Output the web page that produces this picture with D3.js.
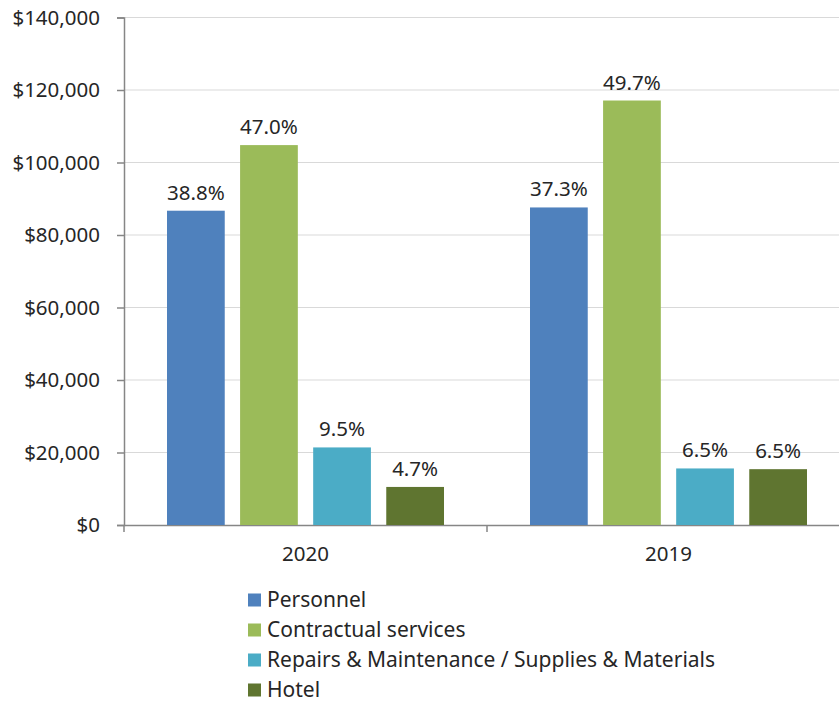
<!DOCTYPE html>
<html>
<head>
<meta charset="utf-8">
<script src="https://cdn.jsdelivr.net/npm/d3@7"></script>
<style>
  body { margin: 0; background: #fff; }
  svg text { font-family: "Noto Sans", sans-serif; fill: #262626; }
</style>
</head>
<body>
<svg id="canvas" width="839" height="704"></svg>
<script>
let years = ['2020', '2019'];
let seriesNames = ['Personnel', 'Contractual services', 'Repairs & Maintenance / Supplies & Materials', 'Hotel'];
let seriesColors = ['#4F81BD', '#9BBB59', '#4BACC6', '#5F7530'];
let values2020 = [86700, 104800, 21400, 10500];
let values2019 = [87600, 117100, 15600, 15400];
let pctLabels2020 = ['38.8%', '47.0%', '9.5%', '4.7%'];
let pctLabels2019 = ['37.3%', '49.7%', '6.5%', '6.5%'];
let yTicks = [0, 20000, 40000, 60000, 80000, 100000, 120000, 140000];

let rows = [
    {year: '2020', values: values2020, labels: pctLabels2020},
    {year: '2019', values: values2019, labels: pctLabels2019}
];

let canvas = d3.select('#canvas');

let plotLeft = 124, plotRight = 850, plotTop = 17.5, plotBottom = 525;

let x0 = d3.scaleBand().domain(years).range([plotLeft, plotRight]);
let x1 = d3.scaleBand().domain(seriesNames)
    .range([43, x0.bandwidth() - 43]).paddingInner(0.21);
let y = d3.scaleLinear().domain([0, 140000]).range([plotBottom, plotTop]);

// gridlines
canvas.append('g')
    .selectAll('line')
    .data(yTicks.filter(d => d > 0))
    .enter()
    .append('line')
    .attr('x1', plotLeft).attr('x2', 839)
    .attr('y1', d => y(d)).attr('y2', d => y(d))
    .attr('stroke', '#d9d9d9').attr('stroke-width', 1.2);

// y axis
let yAxis = d3.axisLeft(y).tickValues(yTicks).tickSize(7).tickPadding(17)
    .tickFormat(d => '$' + d3.format(',')(d));
let yg = canvas.append('g').attr('transform', `translate(${plotLeft},0)`).call(yAxis);
yg.select('.domain').attr('stroke', '#868686').attr('stroke-width', 1.5);
yg.selectAll('.tick line').attr('stroke', '#868686').attr('stroke-width', 1.5);
yg.selectAll('.tick text').style('font-size', '20.5px').attr('fill', '#262626');

// x axis
let xAxis = d3.axisBottom(x0).tickSize(0).tickPadding(21);
let xg = canvas.append('g').attr('transform', `translate(0,${plotBottom})`).call(xAxis);
xg.select('.domain').attr('stroke', '#868686').attr('stroke-width', 1.5);
xg.selectAll('.tick text').style('font-size', '20.5px').attr('fill', '#262626');
// category separators
xg.selectAll('.sep')
    .data([plotLeft, x0('2019'), plotRight])
    .enter()
    .append('line')
    .attr('x1', d => d).attr('x2', d => d)
    .attr('y1', 0).attr('y2', 7)
    .attr('stroke', '#868686').attr('stroke-width', 1.5);

// bars
let groups = canvas.selectAll('.group')
    .data(rows)
    .enter()
    .append('g')
    .attr('transform', d => `translate(${x0(d.year)},0)`);

groups.selectAll('rect')
    .data(d => d.values.map((v, i) => ({name: seriesNames[i], value: v, label: d.labels[i], color: seriesColors[i]})))
    .enter()
    .append('rect')
    .attr('x', d => x1(d.name))
    .attr('y', d => y(d.value))
    .attr('width', x1.bandwidth())
    .attr('height', d => y(0) - y(d.value))
    .attr('fill', d => d.color);

groups.selectAll('.pct')
    .data(d => d.values.map((v, i) => ({name: seriesNames[i], value: v, label: d.labels[i]})))
    .enter()
    .append('text')
    .attr('x', d => x1(d.name) + x1.bandwidth() / 2)
    .attr('y', d => y(d.value) - 11)
    .attr('text-anchor', 'middle')
    .style('font-size', '20.5px')
    .text(d => d.label);

// legend
let legend = canvas.append('g').attr('transform', 'translate(248,600)');
let items = legend.selectAll('g')
    .data(seriesNames)
    .enter()
    .append('g')
    .attr('transform', (d, i) => `translate(0,${i * 30})`);
items.append('rect')
    .attr('x', 0).attr('y', -6.5)
    .attr('width', 13).attr('height', 13)
    .attr('fill', (d, i) => seriesColors[i]);
items.append('text')
    .attr('x', 19).attr('y', 0)
    .attr('dy', '0.35em')
    .style('font-size', '21px')
    .text(d => d);
</script>
</body>
</html>
